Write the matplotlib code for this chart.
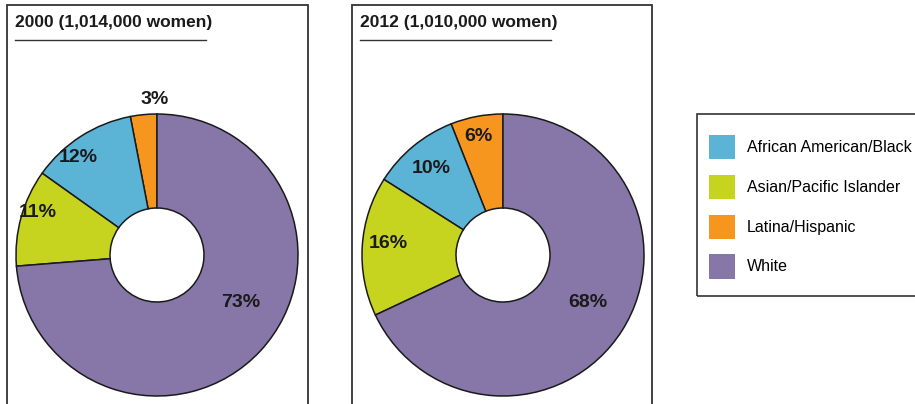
import math
import matplotlib
matplotlib.use("Agg")
import matplotlib.pyplot as plt
from matplotlib.patches import Rectangle, Patch

# Datos del gráfico
categorias = ["African American/Black", "Asian/Pacific Islander", "Latina/Hispanic", "White"]
valores_2000 = [12, 11, 3, 73]
valores_2012 = [10, 16, 6, 68]
titulos = ["2000 (1,014,000 women)", "2012 (1,010,000 women)"]

colores = ["#5bb3d6", "#c7d41f", "#f6961f", "#8677a8"]
orden_dibujo = [2, 0, 1, 3]  # naranja, azul, verde, morado (antihorario desde arriba)

FUENTE = ["Liberation Sans", "DejaVu Sans"]

fig = plt.figure(figsize=(9.15, 4.04), dpi=100)
ax = fig.add_axes([0, 0, 1, 1])

# Paneles: (x izquierda, x derecha, centro pie)
paneles = [
    dict(x0=7, x1=308, cx=157, valores=valores_2000,
         # (fraccion de radio, desplazamiento de angulo) por porcion en orden de dibujo
         etiquetas=[(1.10, -4.7), (0.89, 6), (0.90, -4), (0.68, 13)]),
    dict(x0=352, x1=652, cx=503, valores=valores_2012,
         etiquetas=[(0.86, 1), (0.80, 0), (0.82, -2), (0.69, 3)]),
]
cy = 149
radio = 141
hueco = 47

for i, p in enumerate(paneles):
    # Marco del panel
    ax.add_patch(Rectangle((p["x0"], -10), p["x1"] - p["x0"], 399 + 10,
                           fill=False, edgecolor="#333333", linewidth=1.3))
    # Titulo subrayado
    ax.text(p["x0"] + 8, 382, titulos[i], fontsize=12.5, fontweight="bold",
            family=FUENTE, ha="left", va="center", color="#1a1a1a")
    ax.plot([p["x0"] + 8, p["x0"] + 8 + 191], [364, 364], color="#333333", lw=1)

    vals = [p["valores"][k] for k in orden_dibujo]
    cols = [colores[k] for k in orden_dibujo]
    wedges, _ = ax.pie(vals, colors=cols, startangle=90, counterclock=True,
                       center=(p["cx"], cy), radius=radio, frame=True,
                       wedgeprops=dict(width=radio - hueco, edgecolor="#1a1a1a",
                                       linewidth=1.1))
    for w, v, (rf, da) in zip(wedges, vals, p["etiquetas"]):
        ang = math.radians((w.theta1 + w.theta2) / 2 + da)
        x = p["cx"] + rf * radio * math.cos(ang)
        y = cy + rf * radio * math.sin(ang)
        ax.text(x, y, f"{v}%", fontsize=14, fontweight="bold", family=FUENTE,
                ha="center", va="center", color="#1a1a1a")

ax.set_xlim(0, 915)
ax.set_ylim(0, 404)
ax.set_aspect("equal")
ax.axis("off")

# Leyenda (marco dibujado aparte)
ax.add_patch(Rectangle((697, 108), 240, 182, fill=False, edgecolor="#333333",
                       linewidth=1.2, clip_on=False))
manijas = [Patch(facecolor=c, edgecolor="none") for c in colores]
ley = ax.legend(manijas, categorias, loc="upper left", bbox_to_anchor=(709, 269),
                bbox_transform=ax.transData, borderaxespad=0, frameon=False,
                prop=dict(family=FUENTE, size=11.5), handlelength=1.63,
                handleheight=1.96, labelspacing=0.97, borderpad=0,
                handletextpad=0.75)

fig.savefig("out.png", dpi=100)
